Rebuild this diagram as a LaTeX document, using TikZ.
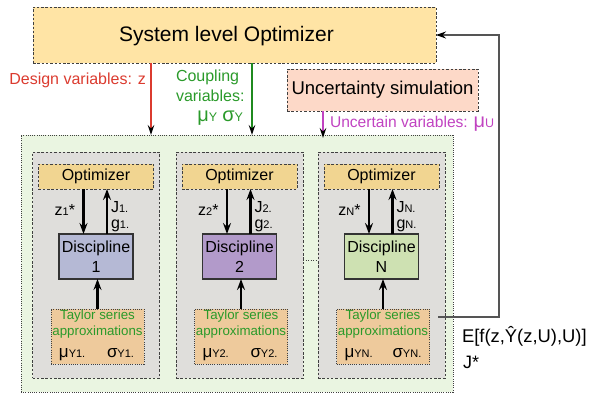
\documentclass[tikz,border=0pt]{standalone}
\usepackage{fontspec}
\setmainfont{Liberation Sans}
\usetikzlibrary{arrows.meta}

\definecolor{sysfill}{HTML}{FFE4A5}
\definecolor{uncfill}{HTML}{FDD9C8}
\definecolor{outerfill}{HTML}{EAF5E1}
\definecolor{grayfill}{HTML}{DFDEDB}
\definecolor{optfill}{HTML}{F1D591}
\definecolor{discA}{HTML}{B5B9D5}
\definecolor{discB}{HTML}{B29ACA}
\definecolor{discC}{HTML}{CEE1B2}
\definecolor{tayfill}{HTML}{EECA9C}
\definecolor{dvred}{HTML}{DB3B2F}
\definecolor{cvgreen}{HTML}{2A9A2A}
\definecolor{cvarrow}{HTML}{1F8A1F}
\definecolor{uvmag}{HTML}{C143C1}
\definecolor{retgray}{HTML}{555555}

\newcommand\fsz[2]{\fontsize{#1}{#2}\selectfont}
\newcommand\smidx[1]{{\fsz{11}{13}#1}}
\newcommand\bigsym[1]{{\fsz{17}{19}#1}}

\begin{document}
\begin{tikzpicture}[x=1pt,y=-1pt,
  box/.style={draw, inner sep=0pt, outer sep=0pt, line width=0.8pt},
  dashbox/.style={box, draw=black!75, dash pattern=on 2.5pt off 1.8pt},
  dotbox/.style={box, draw=black!75, dash pattern=on 1pt off 1.2pt},
  lbl/.style={inner sep=0pt, outer sep=0pt},
  tip/.style={-{Stealth[length=10pt,width=6.5pt,inset=3.5pt,black]}},
  flow/.style={tip, line width=1.5pt},
  localarr/.style={-{Stealth[length=11pt,width=8pt,inset=4pt,black]}, line width=2.2pt},
]
\useasboundingbox (0,0) rectangle (590,394);

% system level
\node[dashbox, fill=sysfill, minimum width=403pt, minimum height=56pt] (sys) at (234.5,35) {};
\node[lbl, anchor=base, font=\fsz{21}{25}] (systxt) at (226.5,41.5) {System level Optimizer};

\node[dashbox, fill=uncfill, minimum width=191pt, minimum height=42pt, font=\fsz{18.5}{22}] (unc) at (382.5,90)
  {Uncertainty simulation};

% subsystem container
\node[dotbox, fill=outerfill, minimum width=432pt, minimum height=257pt] (outer) at (237,263.5) {};

% column positions of the three arrows from the top
\coordinate (dz) at (151,0);
\coordinate (cz) at (252,0);
\coordinate (uz) at (323,0);

\draw[flow, draw=dvred] (sys.south -| dz) -- (outer.north -| dz);
\draw[flow, draw=cvarrow] (sys.south -| cz) -- (outer.north -| cz);
\draw[flow, draw=uvmag] (unc.south -| uz) -- ([yshift=-3pt]outer.north -| uz);

\node[lbl, anchor=base east, text=dvred, font=\fsz{16}{19}] (dvtxt) at (146,84) {Design variables: z};
\node[lbl, anchor=base west, text=cvgreen, font=\fsz{16}{19}] (cvtxt1) at (176,81) {Coupling};
\node[lbl, anchor=base west, text=cvgreen, font=\fsz{16}{19}] (cvtxt2) at (176,101) {variables:};
\node[lbl, anchor=base east, text=cvgreen] (cvtxt3) at (243,121)
  {{\fsz{20}{22}μ}{\fsz{12.5}{14}Y}\hspace{5pt}{\fsz{20}{22}σ}{\fsz{12.5}{14}Y}};
\node[lbl, anchor=base west, text=uvmag, font=\fsz{15.6}{19}] (uvtxt) at (330,127)
  {Uncertain variables: {\fsz{20}{22}μ}{\fsz{12.5}{14}U}};

% disciplines
\foreach \i/\cx/\dc in {1/96/discA, 2/239.5/discB, N/381.5/discC}{
  \node[dashbox, fill=grayfill, minimum width=127pt, minimum height=226pt] (g\i) at (\cx,265) {};
  \node[dashbox, fill=optfill, minimum width=115pt, minimum height=25pt, font=\fsz{16}{19}] (o\i) at (\cx,176.5)
    {Optimizer};
  \node[box, draw=black!80, line width=1.1pt, fill=\dc, minimum width=74pt, minimum height=45pt,
        align=center, font=\fsz{16}{19.5}] (d\i) at (\cx,256.5) {Discipline\\\i};
  \node[dotbox, fill=tayfill, minimum width=93pt, minimum height=55pt] (t\i) at (\cx+1.5,336.5) {};
  \node[lbl, text=cvgreen, align=center, font=\fsz{13.3}{15.5}] (tt\i) at (\cx+1.5,324) {Taylor series\\approximations};
  \node[lbl, anchor=base west] (tm\i) at (\cx-37,357) {\bigsym{μ}\smidx{Y\i.}};
  \node[lbl, anchor=base west] (ts\i) at (\cx+11,357) {\bigsym{σ}\smidx{Y\i.}};

  \draw[localarr] ([xshift=-12.5pt]o\i.south) -- ([xshift=-12.5pt]d\i.north);
  \draw[localarr] ([xshift=11pt]d\i.north) -- ([xshift=11pt]o\i.south);
  \draw[localarr] (t\i.north) -- (t\i.north |- d\i.south);

  \node[lbl, anchor=base east, font=\fsz{16}{19}] (zl\i) at (\cx-21,215) {z\smidx{\i}*};
  \node[lbl, anchor=base west, font=\fsz{16}{19}] (jl\i) at (\cx+15,212) {J\smidx{\i.}};
  \node[lbl, anchor=base west, font=\fsz{16}{19}] (gl\i) at (\cx+15,228) {g\smidx{\i.}};
}

% continuation between discipline 2 and N
\coordinate (mid) at (0,260);
\draw[black!75, line width=0.8pt, dash pattern=on 1pt off 1.5pt] (g2.east |- mid) -- (gN.west |- mid);

% feedback to the system level
\coordinate (ret) at (438,317);
\draw[-{Stealth[length=10pt,width=7pt,inset=3.5pt,black]}, draw=retgray, line width=1.2pt]
  (ret) -- ++(61,0) |- (sys.east);

\node[lbl, anchor=base west, font=\fsz{18.4}{21}] (etxt) at (462,342.5) {E[f(z,Ŷ(z,U),U)]};
\node[lbl, anchor=base west, font=\fsz{18}{21}] (jtxt) at (463,368) {J*};
\end{tikzpicture}
\end{document}
